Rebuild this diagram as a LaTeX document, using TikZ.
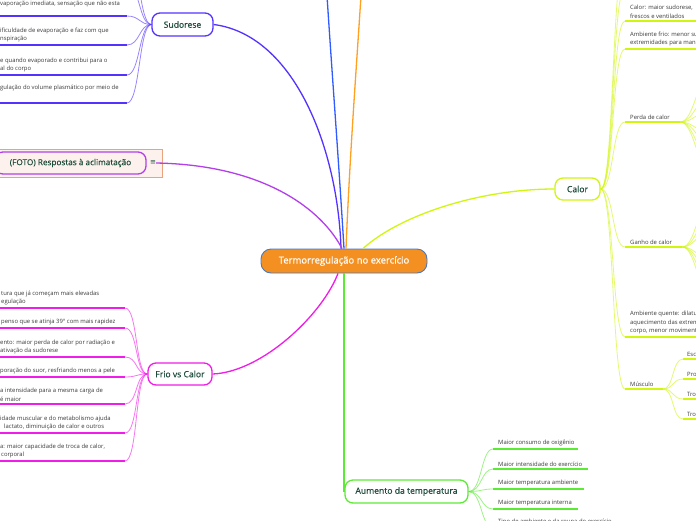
\documentclass[tikz,border=0pt]{standalone}
\usepackage{fontspec}
\setmainfont{Open Sans}
\newfontfamily\dejavu{DejaVu Sans}
\newfontfamily\topicfont[FakeBold=0.5]{Open Sans}
\usetikzlibrary{calc}
\definecolor{cSud}{HTML}{5533FF}
\definecolor{cFoto}{HTML}{B23FEA}
\definecolor{cFrio}{HTML}{F01CE8}
\definecolor{cCalor}{HTML}{D2F50F}
\definecolor{cAum}{HTML}{5CEB34}
\definecolor{cBlue}{HTML}{2F5BFF}
\definecolor{cOrange}{HTML}{FFA020}
\definecolor{rootFill}{HTML}{F39021}
\definecolor{rootLine}{HTML}{4A78C0}
\definecolor{topicText}{HTML}{1E4D3C}
\definecolor{leafText}{HTML}{3A3A3A}
\definecolor{fotoFill}{HTML}{FCF1EC}
\definecolor{fotoLine}{HTML}{EBA27F}
\tikzset{
  topic/.style={draw, rounded corners=8pt, line width=1.3pt, fill=white, text=topicText,
    font=\topicfont\fontsize{8.6}{10}\selectfont, inner sep=0pt},
  rootnode/.style={draw=rootLine, line width=0.9pt, rounded corners=10pt, fill=rootFill, text=white,
    font=\topicfont\fontsize{9.5}{11}\selectfont, inner sep=0pt, minimum width=166pt, minimum height=24pt},
  leaf/.style={inner sep=0pt, anchor=south west, align=left, text=leafText,
    font=\fontsize{5.9}{8.5}\selectfont},
  mainc/.style={line width=1.3pt},
  childc/.style={line width=0.8pt, draw opacity=0.6},
  ul/.style={line width=1.7pt},
}
\begin{document}
\begin{tikzpicture}[x=1pt,y=-1pt]
\useasboundingbox (0,0) rectangle (696,520);
\clip (0,0) rectangle (696,520);

% ---------- main nodes ----------
\node[rootnode] (root) at (344,261) {Termorregulação no exercício};
\node[topic, draw=cSud, minimum width=61pt, minimum height=23pt] (sud) at (182.5,24.5) {Sudorese};
\node[topic, draw=cFrio, minimum width=64pt, minimum height=22pt] (frio) at (180,374) {Frio vs Calor};
\node[topic, draw=cCalor, minimum width=45pt, minimum height=22pt] (calor) at (577.5,189) {Calor};
\node[topic, draw=cAum, minimum width=123pt, minimum height=23pt] (aum) at (406.5,491.5) {Aumento da temperatura};
\node[draw=fotoLine, fill=fotoFill, line width=0.8pt, inner sep=0pt, minimum width=167pt, minimum height=28pt] (fotobox) at (78.5,163) {};
\node[topic, draw=cFoto, fill=fotoFill, font=\topicfont\fontsize{8.2}{10}\selectfont, minimum width=151pt, minimum height=22pt] (foto) at (70.5,163) {(FOTO) Respostas à aclimatação};
\node[text=topicText, font=\dejavu\fontsize{7}{8}\selectfont, inner sep=0pt] (menu) at (153,163) {≡};

% cut-off branches going up
\coordinate (blueEnd) at (326,-20);
\coordinate (orangeEnd) at (362,-20);
\draw[mainc, cBlue] (root.north) .. controls (338,150) and (331,60) .. (blueEnd);
\draw[mainc, cOrange] ($(root.north)+(2,0)$) .. controls (350,150) and (357,60) .. (orangeEnd);

% ---------- main connectors ----------
\draw[mainc, cSud] (sud.east) .. controls (295,35) and (338,150) .. ($(root.north)+(-3,0)$);
\draw[mainc, cFoto] (menu.east) .. controls (265,165) and (322,210) .. ($(root.north)+(-2,0)$);
\draw[mainc, cFrio] (frio.east) .. controls (262,372) and (322,315) .. ($(root.south)+(-6,0)$);
\draw[mainc, cCalor] (calor.west) .. controls (480,189) and (400,215) .. ($(root.north)+(19,0)$);
\draw[mainc, cAum] (root.south) -- (root.south |- aum.west);

% ---------- Sudorese leaves ----------
\foreach \n/\uy in {a/-45, b/-15, 1/16, 2/45, 3/75, 4/103}{
  \coordinate (s\n e) at (127,\uy);
  \coordinate (s\n s) at (-5,\uy);
  \draw[childc, cSud] (sud.west) .. controls (139,24.5) and (140,\uy) .. (s\n e);
  \draw[ul, cSud] (s\n s) -- (s\n e);
}
\node[leaf] (sl1) at (0,7) {vaporação imediata, sensação que não esta};
\node[leaf] (sl2) at (0,42.5) {ificuldade de evaporação e faz com que\\nspiração};
\node[leaf] (sl3) at (0,72.5) {e quando evaporado e contribui para o\\al do corpo};
\node[leaf] (sl4) at (0,91.5) {gulação do volume plasmático por meio de};

% ---------- Frio vs Calor leaves ----------
\foreach \n/\uy in {1/308, 2/328, 3/357, 4/377, 5/404, 6/433, 7/461}{
  \coordinate (f\n e) at (125,\uy);
  \coordinate (f\n s) at (-5,\uy);
  \draw[childc, cFrio] (frio.west) .. controls (135,374) and (138,\uy) .. (f\n e);
  \draw[ul, cFrio] (f\n s) -- (f\n e);
}
\node[leaf] (fl1) at (1,305.5) {tura que já começam mais elevadas\\egulação};
\node[leaf] (fl2) at (1,325.5) {penso que se atinja 39° com mais rapidez};
\node[leaf] (fl3) at (0,354.5) {ento: maior perda de calor por radiação e\\ativação da sudorese};
\node[leaf] (fl4) at (0,374.5) {poração do suor, resfriando menos a pele};
\node[leaf] (fl5) at (0,401.5) {a intensidade para a mesma carga de\\é maior};
\node[leaf] (fl6) at (0,430.5) {idade muscular e do metabolismo ajuda\\\hspace*{4pt}lactato, diminuição de calor e outros};
\node[leaf] (fl7) at (0,458.5) {a: maior capacidade de troca de calor,\\\hspace*{1pt}corporal};

% ---------- Calor leaves ----------
\foreach \n/\uy/\ux in {a/-40/700, b/-12/700, 1/21/700, 2/49/700, 3/122/680, 4/247/682, 5/337/700, 6/389/663}{
  \coordinate (c\n s) at (625,\uy);
  \coordinate (c\n e) at (\ux,\uy);
  \draw[childc, cCalor] (calor.east) .. controls (614,189) and (612,\uy) .. (c\n s);
  \draw[ul, cCalor] (c\n s) -- (c\n e);
}
\node[leaf] (cl1) at (630,18.5) {Calor: maior sudorese,\\frescos e ventilados};
\node[leaf] (cl2) at (630,46.5) {Ambiente frio: menor su\\extremidades para man};
\node[leaf] (cl3) at (630,119.5) {Perda de calor};
\node[leaf] (cl4) at (630,244.5) {Ganho de calor};
\node[leaf] (cl5) at (630,334.5) {Ambiente quente: dilatu\\aquecimento das extrem\\corpo, menor moviment};
\node[leaf] (cl6) at (630,386.5) {Músculo};

% Perda de calor sub-branches (cut off)
\foreach \n/\ty in {1/72, 2/94, 3/110, 4/134, 5/145, 6/160, 7/174}{
  \coordinate (p\n) at (714,\ty);
  \draw[childc, cCalor] (c3e) .. controls (695,122) and (697,\ty) .. (p\n);
}
% Ganho de calor sub-branches (cut off)
\foreach \n/\ty in {1/192, 2/212, 3/227, 4/262, 5/274, 6/288, 7/304}{
  \coordinate (g\n) at (716,\ty);
  \draw[childc, cCalor] (c4e) .. controls (697,247) and (699,\ty) .. (g\n);
}
% Musculo sub-branches
\foreach \n/\uy/\txt in {1/359/Esc, 2/379/Pro, 3/399/Tro, 4/419/Tro}{
  \coordinate (m\n s) at (683,\uy);
  \coordinate (m\n e) at (710,\uy);
  \draw[childc, cCalor] (c6e) .. controls (674,389) and (672,\uy) .. (m\n s);
  \draw[ul, cCalor] (m\n s) -- (m\n e);
  \node[leaf] (ml\n) at (687,\uy-2.5) {\txt};
}

% ---------- Aumento leaves ----------
\foreach \n/\uy/\ux/\txt in {1/449/578/Maior consumo de oxigênio, 2/469/588/Maior intensidade do exercício, 3/489/584/Maior temperatura ambiente, 4/509/578/Maior temperatura interna, 5/528/640/Tipo de ambiente e da roupa do exercício}{
  \coordinate (a\n s) at (493,\uy);
  \coordinate (a\n e) at (\ux,\uy);
  \draw[childc, cAum] (aum.east) .. controls (482,491.5) and (481,\uy) .. (a\n s);
  \draw[ul, cAum] (a\n s) -- (a\n e);
  \node[leaf] (al\n) at (498,\uy-2.5) {\txt};
}
\end{tikzpicture}
\end{document}
